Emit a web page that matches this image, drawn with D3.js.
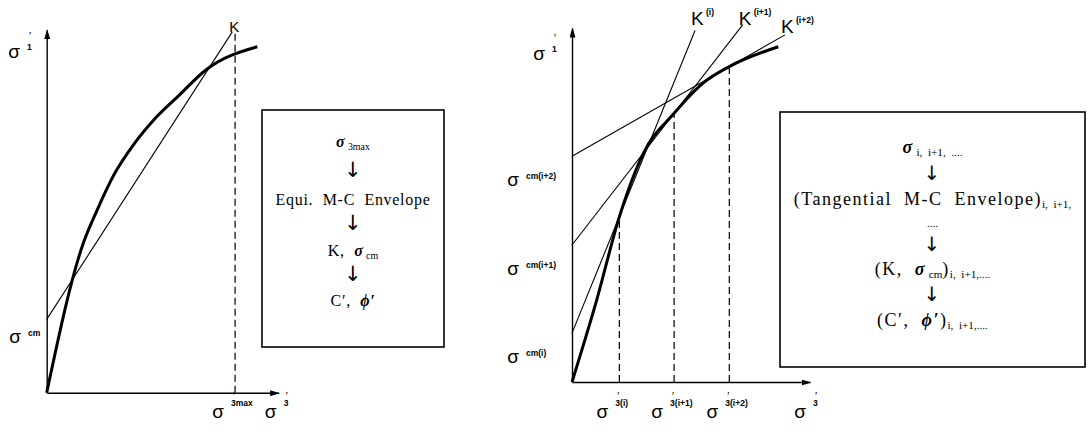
<!DOCTYPE html>
<html lang="en">
<head>
<meta charset="utf-8">
<title>Equivalent and tangential M-C envelopes</title>
<style>
  body { margin: 0; background: #fff; }
  svg { display: block; }
  .lab { font-family: "Liberation Sans", Arial, sans-serif; fill: #000; }
  .sup { font-family: "Liberation Sans", Arial, sans-serif; font-weight: bold; fill: #000; }
  .flow { font-family: "Liberation Serif", "Times New Roman", serif; fill: #000; white-space: pre; }
  .down { font-family: "DejaVu Sans", "DejaVu Serif", sans-serif; fill: #000; }
</style>
</head>
<body>
<div id="container"></div>
<script src="https://cdnjs.cloudflare.com/ajax/libs/d3/7.8.5/d3.min.js"></script>
<script>
// Left panel: curved envelope and the equivalent straight line K
var leftSigma3 = [0, 15.5, 21.6, 29.4, 37.3, 47.4, 57.5, 68.2, 90.8];
var leftSigma1 = [0, 40.7, 50.1, 60.5, 68.2, 76.0, 82.2, 88.7, 95.3];
var leftCm = 20.2;          // where K meets the sigma1 axis
var leftKEnd = [80.0, 99.4]; // top end of K
var leftSigma3max = 81.2;

// Right panel: curved envelope and three tangent lines
var rightSigma3 = [0, 10.4, 19.9, 30.0, 42.9, 55.2, 66.1, 86.7];
var rightSigma1 = [0, 23.2, 46.7, 64.6, 75.9, 84.5, 89.1, 94.7];
var tangentSigma3 = [19.9, 42.9, 66.1];
var tangentSigma1 = [46.7, 75.9, 89.1];
var tangentCm = [13.8, 38.7, 63.8];
var tangentEndX = [51.7, 71.7, 89.5];
var tangentNames = ["(i)", "(i+1)", "(i+2)"];
var bottomNames = ["3(i)", "3(i+1)", "3(i+2)"];
var cmNames = ["cm(i)", "cm(i+1)", "cm(i+2)"];

// flow chart text, one entry per line: [text, kind]
var leftFlow = [
  [["σ", "g"], [" 3max", "sub"]],
  [["↓", "arrow"]],
  [["Equi.  M-C  Envelope", "t"]],
  [["↓", "arrow"]],
  [["K,  ", "t"], ["σ", "g"], [" cm", "sub"]],
  [["↓", "arrow"]],
  [["C′,  ", "t"], ["ϕ′", "g"]]
];
var leftFlowY = [142, 172, 200, 225, 251, 276, 301];

var rightFlow = [
  [["σ", "g"], [" i,  i+1,  ....", "sub"]],
  [["↓", "arrow"]],
  [["(Tangential  M-C  Envelope)", "t"], ["i,  i+1,", "sub"]],
  [["....", "sub"]],
  [["↓", "arrow"]],
  [["(K,  ", "t"], ["σ", "g"], [" cm", "sub"], [")", "t"], ["i,  i+1,....", "sub"]],
  [["↓", "arrow"]],
  [["(C′,  ", "t"], ["ϕ′", "g"], [")", "t"], ["i,  i+1,....", "sub"]]
];
var rightFlowY = [148, 175, 200, 222, 246, 270, 296, 321];

var W = 1090, H = 434;
var svg = d3.select("#container").append("svg")
  .attr("width", W).attr("height", H);
svg.append("rect").attr("width", W).attr("height", H).attr("fill", "#fff");

svg.append("defs").append("marker")
  .attr("id", "arr")
  .attr("viewBox", "0 0 10 6")
  .attr("refX", 9).attr("refY", 3)
  .attr("markerWidth", 10).attr("markerHeight", 6)
  .attr("markerUnits", "userSpaceOnUse")
  .attr("orient", "auto")
  .append("path").attr("d", "M0,0L10,3L0,6Z").attr("fill", "#000");

// scales for the two panels
var xL = d3.scaleLinear().domain([0, 100]).range([46.7, 278.7]);
var yL = d3.scaleLinear().domain([0, 100]).range([392.7, 29.7]);
var xR = d3.scaleLinear().domain([0, 100]).range([572, 810]);
var yR = d3.scaleLinear().domain([0, 100]).range([382, 28]);

function axes(x, y) {
  svg.append("g").attr("transform", "translate(0," + y(0) + ")")
    .call(d3.axisBottom(x).tickValues([]).tickSizeOuter(0))
    .select(".domain").attr("stroke-width", 1.4).attr("marker-end", "url(#arr)");
  svg.append("g").attr("transform", "translate(" + x(0) + ",0)")
    .call(d3.axisLeft(y).tickValues([]).tickSizeOuter(0))
    .select(".domain").attr("stroke-width", 1.4).attr("marker-end", "url(#arr)");
}
axes(xL, yL);
axes(xR, yR);

function envelope(x, y, s3, s1) {
  var line = d3.line()
    .x(function(i) { return x(s3[i]); })
    .y(function(i) { return y(s1[i]); })
    .curve(d3.curveMonotoneX);
  svg.append("path")
    .attr("d", line(d3.range(s3.length)))
    .attr("fill", "none").attr("stroke", "#000").attr("stroke-width", 3);
}
envelope(xL, yL, leftSigma3, leftSigma1);
envelope(xR, yR, rightSigma3, rightSigma1);

// left: K line and sigma3max
svg.append("line")
  .attr("x1", xL(0)).attr("y1", yL(leftCm))
  .attr("x2", xL(leftKEnd[0])).attr("y2", yL(leftKEnd[1]))
  .attr("stroke", "#000").attr("stroke-width", 1.1);
svg.append("line")
  .attr("x1", xL(leftSigma3max)).attr("y1", yL(0))
  .attr("x2", xL(leftSigma3max)).attr("y2", yL(leftKEnd[1]))
  .attr("stroke", "#000").attr("stroke-width", 1.2).attr("stroke-dasharray", "7,4");

// right: tangents and dashed drops
tangentCm.forEach(function(cm, i) {
  var slope = (tangentSigma1[i] - cm) / tangentSigma3[i];
  svg.append("line")
    .attr("x1", xR(0)).attr("y1", yR(cm))
    .attr("x2", xR(tangentEndX[i])).attr("y2", yR(cm + slope * tangentEndX[i]))
    .attr("stroke", "#000").attr("stroke-width", 1.1);
  svg.append("line")
    .attr("x1", xR(tangentSigma3[i])).attr("y1", yR(0))
    .attr("x2", xR(tangentSigma3[i])).attr("y2", yR(tangentSigma1[i]))
    .attr("stroke", "#000").attr("stroke-width", 1.2).attr("stroke-dasharray", "7,4");
});

// axis labels: sigma with a small raised index and a prime above it
function sigma(cx, base, sup, supY, prime) {
  svg.append("text").attr("class", "lab").attr("x", cx).attr("y", base)
    .attr("text-anchor", "middle").attr("font-size", 19).text("σ");
  svg.append("text").attr("class", "sup").attr("x", cx + 13).attr("y", supY)
    .attr("font-size", 8.5).text(sup);
  if (prime) {
    svg.append("text").attr("class", "lab").attr("x", cx + 15).attr("y", base - 18)
      .attr("font-size", 11).text("′");
  }
}
sigma(14, 58, "1", 50, true);
sigma(15, 343, "cm", 336, false);
sigma(539, 60, "1", 52, true);
sigma(xL(leftSigma3max) - 17, 418, "3max", 406, true);
sigma(xL(100) - 8, 418, "3", 406, true);
tangentSigma3.forEach(function(s, i) {
  sigma(xR(s) - 17, 418, bottomNames[i], 406, true);
  sigma(513, yR(tangentCm[i]) + 30, cmNames[i], yR(tangentCm[i]) + 23, false);
});
sigma(xR(100) - 10, 418, "3", 406, true);

// K labels
svg.append("text").attr("class", "lab").attr("x", xL(leftKEnd[0]) - 3).attr("y", 32)
  .attr("font-size", 15).text("K");
var kBase = [25, 25, 33];
tangentNames.forEach(function(n, i) {
  var kx = xR(tangentEndX[i]) - 4;
  svg.append("text").attr("class", "lab").attr("x", kx).attr("y", kBase[i])
    .attr("font-size", 19).text("K");
  svg.append("text").attr("class", "sup").attr("x", kx + 15).attr("y", kBase[i] - 10)
    .attr("font-size", 8.5).text(n);
});

// flow boxes
function flowBox(x0, y0, w, h, lines, ys, size, spacing, arrowScale) {
  svg.append("rect").attr("x", x0).attr("y", y0).attr("width", w).attr("height", h)
    .attr("fill", "none").attr("stroke", "#000").attr("stroke-width", 1.6);
  lines.forEach(function(segs, li) {
    var t = svg.append("text").attr("class", "flow")
      .attr("x", x0 + w / 2).attr("y", ys[li] + 5)
      .attr("text-anchor", "middle").attr("font-size", size)
      .attr("letter-spacing", spacing);
    var shift = 0;
    segs.forEach(function(s) {
      var want = s[1] === "sub" && segs.length > 1 ? 3 : 0;
      var ts = t.append("tspan").text(s[0]).attr("dy", want - shift);
      shift = want;
      if (s[1] === "sub") ts.attr("font-size", size * 0.62).attr("letter-spacing", 0);
      if (s[1] === "g") ts.attr("font-style", "italic").attr("font-weight", "bold");
      if (s[1] === "arrow") ts.attr("class", "down").attr("font-size", size * arrowScale);
    });
  });
}
flowBox(262, 110, 182, 237, leftFlow, leftFlowY, 16, 0.7, 1.3);
flowBox(780, 112, 305, 255, rightFlow, rightFlowY, 18, 1.5, 1.1);
</script>
</body>
</html>
